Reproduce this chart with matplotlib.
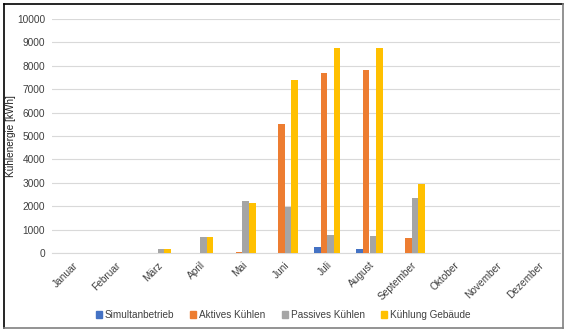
import numpy as np
import matplotlib
matplotlib.use("Agg")
import matplotlib.pyplot as plt
from matplotlib.patches import Rectangle
from matplotlib.lines import Line2D

plt.rcParams['font.family'] = ['Liberation Sans', 'DejaVu Sans']

## Data
months = ["Januar", "Februar", "März", "April", "Mai", "Juni", "Juli",
          "August", "September", "Oktober", "November", "Dezember"]
simultan = [0, 0, 0, 0, 0, 0, 270, 170, 0, 0, 0, 0]
aktiv = [0, 0, 0, 0, 60, 5500, 7700, 7830, 650, 0, 0, 0]
passiv = [0, 0, 150, 700, 2210, 1980, 760, 730, 2340, 0, 0, 0]
gebaeude = [0, 0, 150, 680, 2130, 7390, 8740, 8770, 2970, 0, 0, 0]

series = [("Simultanbetrieb", simultan, "#4472C4"),
          ("Aktives Kühlen", aktiv, "#ED7D31"),
          ("Passives Kühlen", passiv, "#A5A5A5"),
          ("Kühlung Gebäude", gebaeude, "#FFC000")]

fig = plt.figure(figsize=(5.66, 3.31), dpi=100)
ax = fig.add_axes([52/566, 1-253/331, 508/566, 234/331])

x = np.arange(len(months))
w = 0.155
for i, (name, vals, col) in enumerate(series):
    ax.bar(x + (i-1.5)*w, vals, width=w, color=col, label=name, zorder=3)

ax.set_xlim(-0.5, 11.5)
ax.set_ylim(0, 10000)
ax.set_yticks(np.arange(0, 10001, 1000))
ax.grid(axis='y', color='#D9D9D9', linewidth=0.8, zorder=0)
for s in ['top', 'right', 'left']:
    ax.spines[s].set_visible(False)
ax.spines['bottom'].set_color('#D9D9D9')
ax.tick_params(length=0, labelsize=7.3, colors='#404040')
ax.tick_params(axis='y', pad=5)
ax.set_xticks(x)
ax.set_xticklabels(months, rotation=45, ha='right', rotation_mode='anchor')
ax.tick_params(axis='x', pad=5)
ax.set_ylabel("Kühlenergie [kWh]", fontsize=7.2, color='#202020')
ax.yaxis.set_label_coords(-0.07, 0.5)

## Legend below the plot
handles = [Rectangle((0, 0), 1, 1, color=c) for _, _, c in series]
fig.legend(handles, [n for n, _, _ in series], loc='center',
           bbox_to_anchor=(0.5, 1-315/331), ncol=4, frameon=False,
           fontsize=7.2, handlelength=0.6, handleheight=0.6,
           handletextpad=0.3, columnspacing=1.6, labelcolor='#404040')

## Frame around the figure (dark top/left, gray bottom/right)
fig.add_artist(Line2D([4/566, 4/566], [1-328/331, 1-4/331], color='black', lw=1.2))
fig.add_artist(Line2D([4/566, 563/566], [1-4/331, 1-4/331], color='black', lw=1.2))
fig.add_artist(Line2D([563/566, 563/566], [1-328/331, 1-4/331], color='#808080', lw=1.2))
fig.add_artist(Line2D([4/566, 563/566], [1-328/331, 1-328/331], color='#808080', lw=1.2))

fig.savefig("out.png", dpi=100)
